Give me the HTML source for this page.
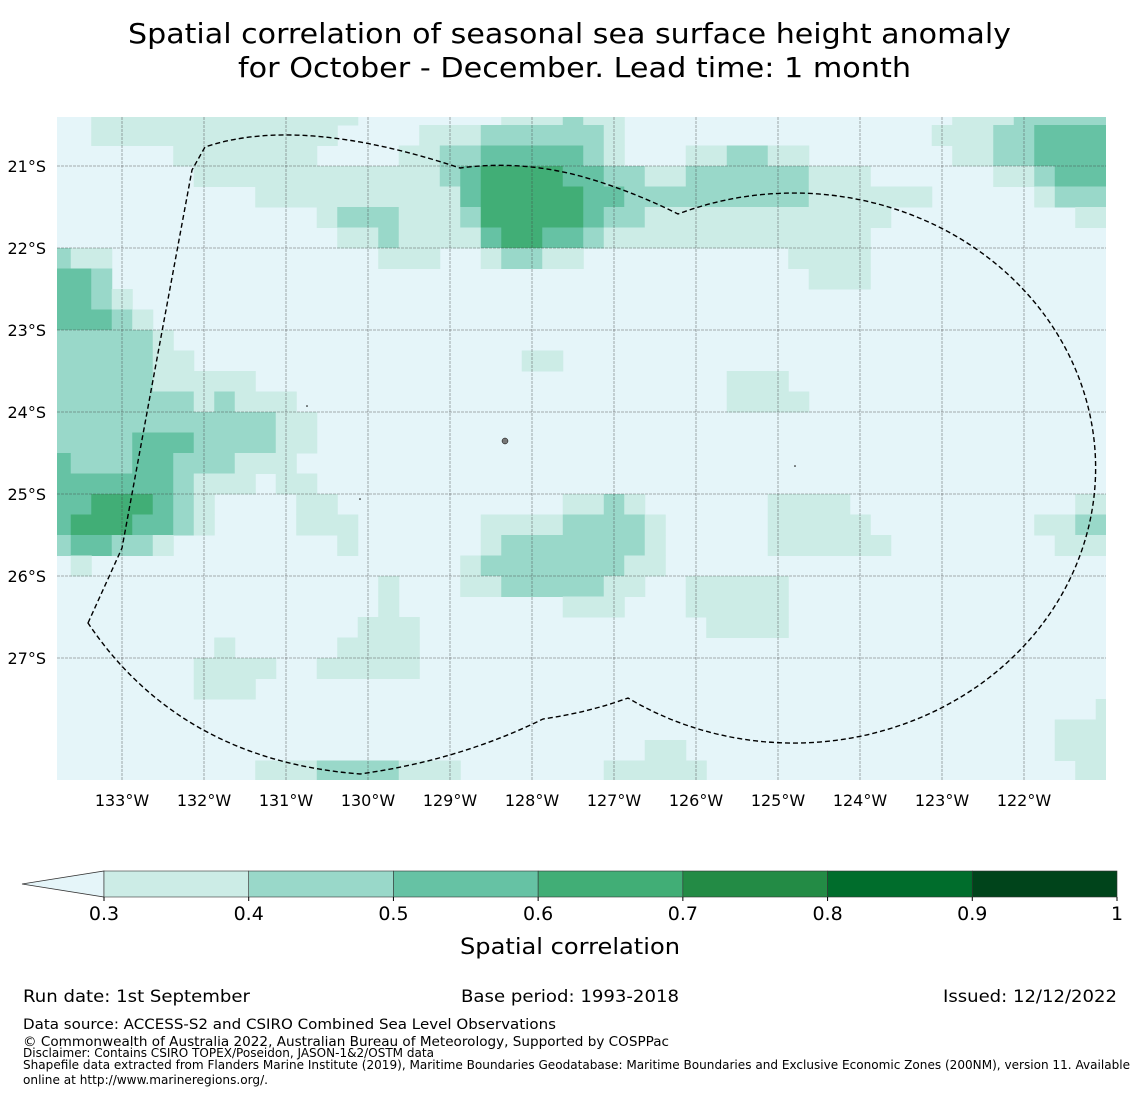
<!DOCTYPE html>
<html><head><meta charset="utf-8"><style>
body{margin:0;background:#fff;}
svg{display:block;font-family:"DejaVu Sans","Liberation Sans",sans-serif;}
</style></head><body>
<svg id="chart" width="1140" height="1095" viewBox="0 0 1140 1095">
<text x="128" y="43" font-size="28" textLength="883" lengthAdjust="spacingAndGlyphs">Spatial correlation of seasonal sea surface height anomaly</text>
<text x="238" y="77" font-size="28" textLength="673" lengthAdjust="spacingAndGlyphs">for October - December. Lead time: 1 month</text>
<defs><clipPath id="mapclip"><rect x="57" y="117" width="1049" height="663"/></clipPath></defs>
<g id="map" clip-path="url(#mapclip)">
<rect x="57" y="117" width="1049" height="663" fill="#e5f5f9"/>
<g id="cells"></g>
<g id="grid"></g>
<path d="M88,623 L122,548 L153,380 L192,170 L205,147 Q300,115 460,168 Q520,160 580,176 Q630,190 678,214 A302,275 0 1 1 628,698 Q590,712 543,719 Q460,760 360,774 Q180,760 88,623 Z" fill="none" stroke="#000" stroke-width="1.4" stroke-dasharray="5,3"/>
<circle cx="505" cy="441" r="3" fill="#777" stroke="#000" stroke-width="0.5"/>
<circle cx="307" cy="406" r="0.8" fill="#000"/>
<circle cx="360" cy="499" r="0.8" fill="#000"/>
<circle cx="795" cy="466" r="0.8" fill="#000"/>
</g>
<g id="axislabels" font-size="16"></g>
<g id="colorbar"></g>
<text x="460" y="954" font-size="22" textLength="220" lengthAdjust="spacingAndGlyphs">Spatial correlation</text>
<text x="23" y="1002" font-size="17" textLength="227" lengthAdjust="spacingAndGlyphs">Run date: 1st September</text>
<text x="461" y="1002" font-size="17" textLength="218" lengthAdjust="spacingAndGlyphs">Base period: 1993-2018</text>
<text x="943" y="1002" font-size="17" textLength="174" lengthAdjust="spacingAndGlyphs">Issued: 12/12/2022</text>
<text x="23" y="1029" font-size="14.5" textLength="533" lengthAdjust="spacingAndGlyphs">Data source: ACCESS-S2 and CSIRO Combined Sea Level Observations</text>
<text x="23" y="1046" font-size="13.5" textLength="646" lengthAdjust="spacingAndGlyphs">© Commonwealth of Australia 2022, Australian Bureau of Meteorology, Supported by COSPPac</text>
<text x="23" y="1057" font-size="12" textLength="411" lengthAdjust="spacingAndGlyphs">Disclaimer: Contains CSIRO TOPEX/Poseidon, JASON-1&amp;2/OSTM data</text>
<text x="23" y="1069" font-size="12" textLength="1107" lengthAdjust="spacingAndGlyphs">Shapefile data extracted from Flanders Marine Institute (2019), Maritime Boundaries Geodatabase: Maritime Boundaries and Exclusive Economic Zones (200NM), version 11. Available</text>
<text x="23" y="1084" font-size="12" textLength="245" lengthAdjust="spacingAndGlyphs">online at http://www.marineregions.org/.</text>
</svg>
<script>
const levelColors = ["#e5f5f9","#ccece6","#99d8c9","#66c2a4","#41ae76","#238b45","#006d2c","#00441b"];
const colorbarTicks = ["0.3","0.4","0.5","0.6","0.7","0.8","0.9","1"];
const lonTicks = [133,132,131,130,129,128,127,126,125,124,123,122];
const latTicks = [21,22,23,24,25,26,27];
const cellSizeDeg = 0.25;
const lonStartW = 133.875;
const latStartS = 20.25;
// per-row runs: [firstCol, lastCol, level]
const rowRuns = [
[[2,14,1],[22,24,1],[25,25,2],[26,27,1],[44,46,1],[47,51,2]],
[[2,13,1],[18,20,1],[21,26,2],[27,27,1],[43,45,1],[46,47,2],[48,51,3]],
[[6,12,1],[17,18,1],[19,20,2],[21,25,3],[26,26,2],[27,27,1],[31,32,1],[33,34,2],[35,36,1],[44,45,1],[46,47,2],[48,51,3]],
[[7,18,1],[19,19,2],[20,20,3],[21,24,4],[25,26,3],[27,28,2],[29,30,1],[31,36,2],[37,39,1],[46,47,1],[48,48,2],[49,51,3]],
[[10,19,1],[20,20,3],[21,25,4],[26,27,3],[28,36,2],[37,42,1],[48,48,1],[49,51,2]],
[[13,13,1],[14,16,2],[17,19,1],[20,20,2],[21,25,4],[26,26,3],[27,28,2],[29,40,1],[50,51,1]],
[[14,15,1],[16,16,2],[17,20,1],[21,21,3],[22,23,4],[24,25,3],[26,26,2],[27,39,1]],
[[0,0,2],[1,2,1],[16,18,1],[21,21,1],[22,23,2],[24,25,1],[36,39,1]],
[[0,1,3],[2,2,2],[37,39,1]],
[[0,1,3],[2,2,2],[3,3,1]],
[[0,2,3],[3,3,2],[4,4,1]],
[[0,4,2],[5,5,1]],
[[0,4,2],[5,6,1],[23,24,1]],
[[0,4,2],[5,9,1],[33,35,1]],
[[0,6,2],[7,7,1],[8,8,2],[9,11,1],[33,36,1]],
[[0,10,2],[11,12,1]],
[[0,3,2],[4,6,3],[7,10,2],[11,12,1]],
[[0,0,3],[1,3,2],[4,5,3],[6,8,2],[9,11,1]],
[[0,5,3],[6,6,2],[7,9,1],[11,12,1]],
[[0,1,3],[2,4,4],[5,5,3],[6,6,2],[7,7,1],[12,13,1],[25,26,1],[27,27,2],[28,28,1],[35,38,1],[50,51,1]],
[[0,0,3],[1,3,4],[4,5,3],[6,6,2],[7,7,1],[12,14,1],[21,24,1],[25,28,2],[29,29,1],[35,39,1],[48,49,1],[50,51,2]],
[[0,0,2],[1,2,3],[3,4,2],[5,5,1],[14,14,1],[21,21,1],[22,28,2],[29,29,1],[35,40,1],[49,51,1]],
[[1,1,1],[20,20,1],[21,27,2],[28,29,1]],
[[16,16,1],[20,21,1],[22,26,2],[27,28,1],[31,35,1]],
[[16,16,1],[25,27,1],[31,35,1]],
[[15,17,1],[32,35,1]],
[[8,8,1],[14,17,1]],
[[7,10,1],[13,17,1]],
[[7,9,1]],
[[51,51,1]],
[[49,51,1]],
[[29,30,1],[49,51,1]],
[[10,12,1],[13,16,2],[17,19,1],[27,31,1],[50,51,1]]
];
const NS="http://www.w3.org/2000/svg";
const PX=82;
function xOfLonW(l){return 122+(133-l)*PX;}
function yOfLatS(l){return 166+(l-21)*PX;}
function mk(tag,attrs,parent){const e=document.createElementNS(NS,tag);for(const k in attrs)e.setAttribute(k,attrs[k]);parent.appendChild(e);return e;}
const cellsG=document.getElementById('cells');
rowRuns.forEach((runs,r)=>{
  runs.forEach(run=>{
    const x0=xOfLonW(lonStartW-run[0]*cellSizeDeg);
    const x1=xOfLonW(lonStartW-(run[1]+1)*cellSizeDeg);
    const y0=yOfLatS(latStartS+r*cellSizeDeg);
    const y1=yOfLatS(latStartS+(r+1)*cellSizeDeg);
    const el=mk('rect',{x:x0,y:y0,width:x1-x0+0.5,height:y1-y0+0.5,fill:levelColors[run[2]]},cellsG);
    
    
  });
});
const gridG=document.getElementById('grid');
const labG=document.getElementById('axislabels');
lonTicks.forEach(l=>{
  const x=xOfLonW(l);
  const ln=mk('line',{x1:x,x2:x,y1:117,y2:780,stroke:'#444','stroke-width':0.8,'stroke-dasharray':'3,1','stroke-opacity':0.55},gridG);
  
  
  const t=mk('text',{x:x,y:806,'text-anchor':'middle'},labG);t.textContent=l+'°W';
  
  
});
latTicks.forEach(l=>{
  const y=yOfLatS(l);
  const ln=mk('line',{x1:57,x2:1106,y1:y,y2:y,stroke:'#444','stroke-width':0.8,'stroke-dasharray':'3,1','stroke-opacity':0.55},gridG);
  
  
  const t=mk('text',{x:46,y:y+6,'text-anchor':'end'},labG);t.textContent=l+'°S';
  
  
});
const cb=document.getElementById('colorbar');
const cbX0=104,cbX1=1117,cbY=871,cbH=26;
const segW=(cbX1-cbX0)/(colorbarTicks.length-1);
const tri=mk('polygon',{points:`22,${cbY+cbH/2} ${cbX0},${cbY} ${cbX0},${cbY+cbH}`,fill:levelColors[0],stroke:'#333','stroke-width':0.8},cb);


for(let i=0;i<colorbarTicks.length-1;i++){
  const s=mk('rect',{x:cbX0+i*segW,y:cbY,width:segW,height:cbH,fill:levelColors[i+1],stroke:'#333','stroke-width':0.6},cb);
  
  
}
colorbarTicks.forEach((t,i)=>{
  const x=cbX0+i*segW;
  const tk=mk('line',{x1:x,x2:x,y1:cbY+cbH,y2:cbY+cbH+4,stroke:'#000'},cb);
  
  
  const tx=mk('text',{x:x,y:920,'font-size':19,'text-anchor':'middle'},cb);tx.textContent=t;
  
  
});
</script>
</body></html>
